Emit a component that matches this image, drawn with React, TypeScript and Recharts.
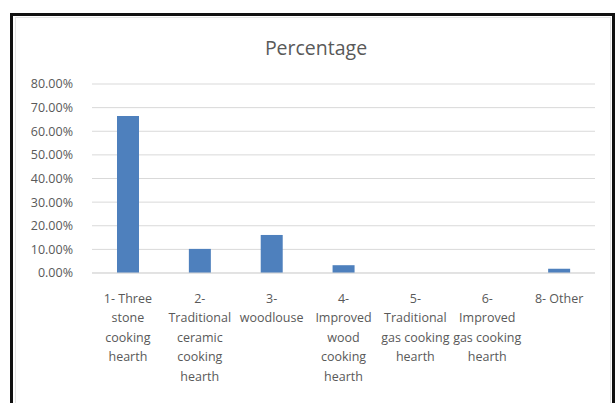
import React from "react";
import { BarChart, Bar, XAxis, YAxis, CartesianGrid } from "recharts";

const categories = [
  "1- Three|stone|cooking|hearth",
  "2-|Traditional|ceramic|cooking|hearth",
  "3-|woodlouse",
  "4-|Improved|wood|cooking|hearth",
  "5-|Traditional|gas cooking|hearth",
  "6-|Improved|gas cooking|hearth",
  "8- Other",
];
const percentages = [0.665, 0.102, 0.161, 0.033, 0, 0, 0.018];
const yTicks = [0, 0.1, 0.2, 0.3, 0.4, 0.5, 0.6, 0.7, 0.8];

const data = categories.map((name, i) => ({ name, value: percentages[i] }));

const FONT = "'Open Sans', sans-serif";
const TEXT = "#595959";

const CategoryTick = ({ x, y, payload }: { x: number; y: number; payload: { value: string } }) => {
  const lines = String(payload.value).split("|");
  return (
    <text x={x} y={y} textAnchor="middle" fill={TEXT} fontSize={12.5} fontFamily={FONT}>
      {lines.map((line, i) => (
        <tspan key={i} x={x} dy={i === 0 ? 21.5 : 19.5}>
          {line}
        </tspan>
      ))}
    </text>
  );
};

const pct = (v: number) => (v * 100).toFixed(2) + "%";

export default function App() {
  return (
    <div
      style={{
        position: "absolute",
        left: 0,
        top: 0,
        width: 616,
        height: 403,
        overflow: "hidden",
        background: "#fff",
      }}
    >
      <div
        style={{
          position: "absolute",
          left: 10,
          top: 13,
          width: 599,
          height: 420,
          border: "3px solid #111",
        }}
      />
      <div
        style={{
          position: "absolute",
          left: 15,
          top: 17,
          width: 594,
          height: 420,
          border: "1px solid #e4e4e4",
        }}
      />
      <div
        style={{
          position: "absolute",
          left: 0,
          top: 34,
          width: 616,
          textAlign: "center",
          fontFamily: FONT,
          fontSize: 19.5,
          color: TEXT,
          paddingLeft: 8,
        }}
      >
        Percentage
      </div>
      <div style={{ position: "absolute", left: 0, top: 0 }}>
        <BarChart
          width={616}
          height={403}
          data={data}
          margin={{ top: 84, right: 21, bottom: 100, left: 0 }}
          barCategoryGap={0}
        >
          <CartesianGrid vertical={false} stroke="#d9d9d9" />
          <XAxis
            dataKey="name"
            height={30}
            stroke="#d9d9d9"
            tickLine={false}
            interval={0}
            tick={CategoryTick}
          />
          <YAxis
            width={92}
            domain={[0, 0.8]}
            ticks={yTicks}
            interval={0}
            tickFormatter={pct}
            axisLine={false}
            tickLine={false}
            tickMargin={13}
            tick={{ fill: TEXT, fontSize: 12.5, fontFamily: FONT }}
          />
          <Bar dataKey="value" fill="#4e80bd" barSize={22} isAnimationActive={false} />
        </BarChart>
      </div>
    </div>
  );
}
